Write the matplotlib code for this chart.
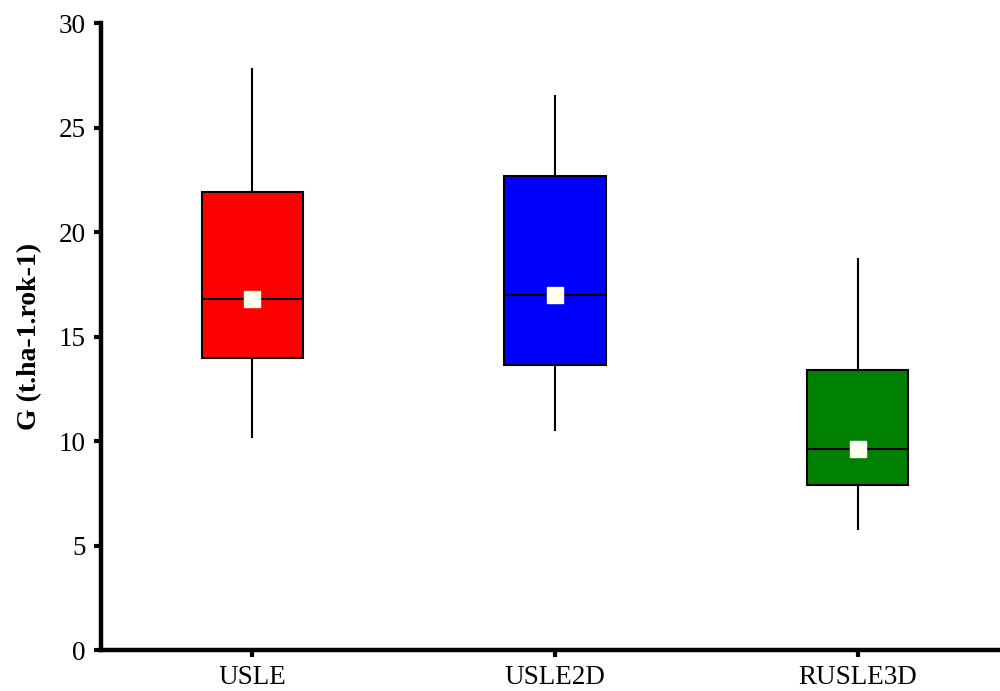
import matplotlib.pyplot as plt

plt.rcParams['font.family'] = ['Liberation Serif', 'DejaVu Serif']

# data
categories = ['USLE', 'USLE2D', 'RUSLE3D']
whislo = [10.2, 10.55, 5.8]
q1 = [13.95, 13.65, 7.9]
med = [16.8, 17.0, 9.6]
q3 = [21.9, 22.7, 13.4]
whishi = [27.8, 26.5, 18.7]
means = [16.8, 17.0, 9.6]
colors = ['#ff0000', '#0000ff', '#008000']

stats = []
for i, name in enumerate(categories):
    stats.append(dict(label=name, whislo=whislo[i], q1=q1[i], med=med[i],
                      q3=q3[i], whishi=whishi[i], mean=means[i], fliers=[]))

fig = plt.figure(figsize=(10, 6.91), dpi=100)
ax = fig.add_axes([0.101, 0.0593, 0.899, 0.9074])

bp = ax.bxp(stats, positions=range(len(categories)), widths=0.335,
            patch_artist=True, showmeans=True, showcaps=False,
            boxprops=dict(edgecolor='black', linewidth=1.5),
            whiskerprops=dict(color='black', linewidth=1.5),
            medianprops=dict(color='black', linewidth=1.5),
            meanprops=dict(marker='s', markerfacecolor='#fffff0',
                           markeredgecolor='#fffff0', markersize=11))
for patch, c in zip(bp['boxes'], colors):
    patch.set_facecolor(c)

ax.set_xlim(-0.5, 2.47)
ax.set_ylim(0, 30)
ax.set_yticks([0, 5, 10, 15, 20, 25, 30])
ax.set_ylabel('G (t.ha-1.rok-1)', fontsize=20, fontweight='bold', labelpad=12)

for s in ['top', 'right']:
    ax.spines[s].set_visible(False)
for s in ['left', 'bottom']:
    ax.spines[s].set_linewidth(3.2)
ax.tick_params(axis='both', direction='out', length=5, width=3,
               labelsize=19.5, pad=6)

fig.savefig('out.png', dpi=100)
